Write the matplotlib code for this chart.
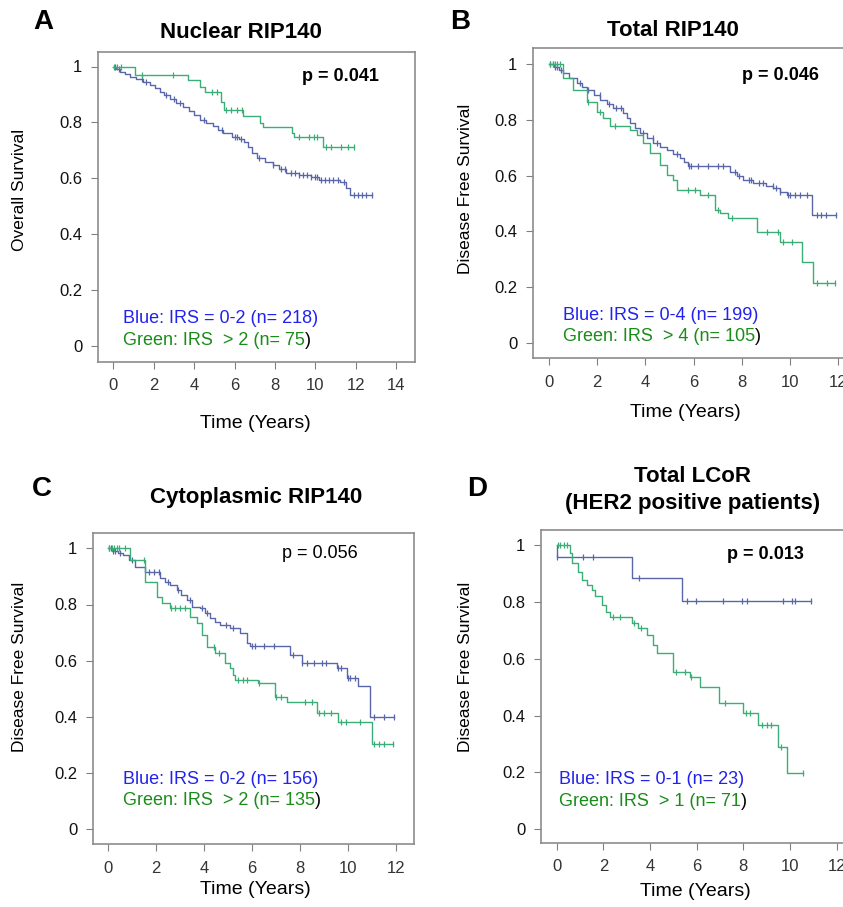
import numpy as np
import matplotlib
matplotlib.use("Agg")
import matplotlib.pyplot as plt
from matplotlib import font_manager

# ---- data (time in years, survival fraction) ----
# A: Nuclear RIP140, overall survival
a_blue_t = [0.15, 0.35, 0.6, 0.85, 1.1, 1.45, 1.8, 2.05, 2.3, 2.5, 2.8, 3.1, 3.45, 3.75, 4.0, 4.3,
            4.6, 4.95, 5.2, 5.45, 5.9, 6.2, 6.45, 6.65, 6.85, 7.1, 7.5, 7.9, 8.2, 8.55, 9.2, 9.8,
            10.2, 11.2, 11.5, 11.7]
a_blue_s = [0.99, 0.981, 0.972, 0.963, 0.954, 0.944, 0.934, 0.922, 0.91, 0.898, 0.884, 0.870, 0.856,
            0.840, 0.825, 0.809, 0.798, 0.787, 0.774, 0.761, 0.749, 0.740, 0.731, 0.712, 0.692, 0.672,
            0.660, 0.648, 0.633, 0.618, 0.612, 0.603, 0.594, 0.588, 0.564, 0.540]
a_blue_c = [0.1, 0.3, 1.4, 1.6, 2.6, 3.0, 3.3, 4.5, 5.4, 6.0, 6.1, 6.3, 7.2, 7.9, 8.3, 8.5, 8.8, 9.0,
            9.2, 9.4, 9.6, 9.8, 10.0, 10.1, 10.3, 10.5, 10.7, 10.9, 11.1, 11.4, 11.9, 12.1, 12.3,
            12.5, 12.8]
a_green_t = [1.07, 3.71, 4.29, 4.54, 5.33, 5.5, 6.44, 7.26, 7.43, 8.83, 8.95, 10.37]
a_green_s = [0.970, 0.952, 0.928, 0.910, 0.874, 0.844, 0.823, 0.799, 0.782, 0.763, 0.747, 0.713]
a_green_c = [0.05, 0.2, 0.4, 1.4, 2.97, 4.9, 5.15, 5.6, 5.85, 6.1, 6.35, 9.2, 9.7, 9.95, 10.1,
             10.55, 10.8, 11.25, 11.6, 11.92]

# B: Total RIP140, disease free survival
b_blue_t = [0.2, 0.4, 0.6, 0.85, 1.15, 1.35, 1.56, 1.85, 2.12, 2.4, 2.67, 3.08, 3.25, 3.36, 3.55,
            3.78, 4.05, 4.33, 4.6, 4.88, 5.15, 5.44, 5.6, 5.78, 7.51, 7.8, 8.06, 8.48, 9.0, 9.31,
            9.6, 9.86, 10.9]
b_blue_s = [0.99, 0.98, 0.967, 0.952, 0.931, 0.918, 0.907, 0.889, 0.871, 0.856, 0.842, 0.824, 0.806,
            0.788, 0.770, 0.752, 0.734, 0.716, 0.704, 0.692, 0.677, 0.662, 0.648, 0.635, 0.614,
            0.599, 0.584, 0.572, 0.563, 0.554, 0.542, 0.530, 0.459]
b_blue_c = [0.05, 0.15, 0.25, 0.35, 0.5, 1.3, 1.6, 2.1, 2.5, 2.8, 3.0, 3.9, 4.3, 4.5, 5.3, 5.8, 5.9,
            6.2, 6.6, 7.0, 7.2, 7.7, 7.9, 8.3, 8.4, 8.7, 8.9, 9.3, 9.4, 9.6, 9.9, 10.0, 10.2,
            10.4, 10.7, 11.1, 11.3, 11.5, 11.9]
b_green_t = [0.59, 1.01, 1.56, 1.98, 2.25, 2.53, 3.36, 3.64, 3.91, 4.19, 4.61, 4.88, 5.16, 5.30,
             6.27, 6.89, 7.10, 7.44, 8.62, 9.59, 10.49, 10.97]
b_green_s = [0.949, 0.907, 0.865, 0.829, 0.806, 0.778, 0.764, 0.746, 0.716, 0.680, 0.638, 0.602,
             0.584, 0.548, 0.530, 0.476, 0.464, 0.449, 0.399, 0.363, 0.291, 0.213]
b_green_c = [0.05, 0.15, 0.25, 0.35, 0.45, 1.63, 2.12, 2.74, 5.78, 6.05, 6.6, 7.02, 7.6, 9.03,
             9.52, 9.72, 10.07, 11.1, 11.52, 11.87]

# C: Cytoplasmic RIP140, disease free survival
c_blue_t = [0.15, 0.4, 0.63, 0.85, 1.11, 1.53, 2.16, 2.35, 2.57, 2.85, 3.05, 3.27, 3.48, 3.83, 4.05,
            4.24, 4.45, 4.66, 5.08, 5.49, 5.77, 5.91, 7.58, 8.07, 9.53, 9.95, 10.43, 10.92]
c_blue_s = [0.99, 0.983, 0.976, 0.96, 0.935, 0.917, 0.893, 0.881, 0.869, 0.852, 0.834, 0.816, 0.792,
            0.786, 0.768, 0.751, 0.739, 0.727, 0.715, 0.697, 0.662, 0.652, 0.620, 0.591, 0.573,
            0.537, 0.51, 0.401]
c_blue_c = [0.05, 0.1, 0.2, 0.3, 0.5, 1.0, 1.7, 1.9, 2.1, 2.5, 2.9, 3.4, 3.9, 4.1, 4.9, 5.2, 6.0, 6.1,
            6.5, 6.9, 7.7, 8.1, 8.3, 8.6, 8.9, 9.1, 9.6, 9.7, 10.0, 10.1, 10.3, 11.1, 11.5, 11.9]
c_green_t = [0.9, 1.53, 2.02, 2.23, 2.57, 3.41, 3.69, 3.9, 4.1, 4.45, 4.87, 5.08, 5.22, 5.29, 6.26,
             6.95, 7.44, 8.69, 9.6, 10.99]
c_green_s = [0.958, 0.881, 0.828, 0.804, 0.786, 0.757, 0.733, 0.691, 0.650, 0.626, 0.591, 0.573,
             0.55, 0.531, 0.519, 0.472, 0.454, 0.413, 0.383, 0.304]
c_green_c = [0.05, 0.15, 0.25, 0.35, 0.45, 0.7, 1.5, 2.6, 2.8, 3.0, 3.2, 4.4, 4.6, 5.4, 5.6, 5.8, 6.3,
             7.0, 7.2, 8.2, 8.5, 8.8, 9.0, 9.3, 9.7, 9.9, 10.5, 11.1, 11.3, 11.5, 11.89]

# D: Total LCoR (HER2 positive), disease free survival
d_blue_t = [0.0, 3.21, 5.39]
d_blue_s = [0.957, 0.883, 0.803]
d_blue_c = [0.0, 1.12, 1.55, 3.54, 5.57, 5.99, 7.14, 7.93, 8.14, 9.71, 10.07, 10.21, 10.89]
d_green_t = [0.57, 0.64, 0.93, 1.07, 1.29, 1.5, 1.64, 1.93, 2.11, 2.28, 3.21, 3.5, 3.86, 4.14, 4.29,
             5.0, 5.71, 6.14, 6.96, 8.0, 8.64, 9.5, 9.86]
d_green_s = [0.971, 0.936, 0.906, 0.877, 0.859, 0.842, 0.821, 0.789, 0.765, 0.748, 0.725, 0.707,
             0.683, 0.648, 0.619, 0.554, 0.537, 0.502, 0.443, 0.408, 0.367, 0.291, 0.197]
d_green_c = [0.05, 0.15, 0.3, 0.45, 2.4, 2.7, 3.3, 3.6, 5.1, 5.5, 5.75, 7.2, 8.1, 8.3, 8.8, 9.0,
             9.2, 9.6, 10.57]

titles = ["Nuclear RIP140", "Total RIP140", "Cytoplasmic RIP140", "Total LCoR\n(HER2 positive patients)"]
letters = ["A", "B", "C", "D"]
ylabels = ["Overall Survival", "Disease Free Survival", "Disease Free Survival", "Disease Free Survival"]
pvals = ["p = 0.041", "p = 0.046", "p = 0.056", "p = 0.013"]
p_bold = [True, True, False, True]
blue_labels = ["Blue: IRS = 0-2 (n= 218)", "Blue: IRS = 0-4 (n= 199)",
               "Blue: IRS = 0-2 (n= 156)", "Blue: IRS = 0-1 (n= 23)"]
green_labels = ["Green: IRS  > 2 (n= 75", "Green: IRS  > 4 (n= 105",
                "Green: IRS  > 2 (n= 135", "Green: IRS  > 1 (n= 71"]

W, H = 843, 907
LINE_BLUE = "#5a66aa"
LINE_GREEN = "#3aae76"
TXT_BLUE = "#2222ee"
TXT_GREEN = "#1a8c1a"


def has_font(name):
    try:
        font_manager.findfont(name, fallback_to_default=False)
        return True
    except ValueError:
        return False


if has_font("Liberation Sans Narrow"):
    head_font, head_size = "Liberation Sans Narrow", 18.5
else:
    head_font, head_size = "Liberation Sans", 16
plt.rcParams["font.family"] = ["Liberation Sans", "DejaVu Sans"]

fig = plt.figure(figsize=(W / 100, H / 100), dpi=100)


def fx(x):
    return x / W


def fy(y):
    return 1 - y / H


def km(ax, times, surv, cens, color):
    end = max(max(cens), times[-1])
    t = np.r_[0, times, end]
    s = np.r_[1, surv, surv[-1]]
    ax.step(t, s, where="post", color=color, lw=1.0)
    idx = np.searchsorted(times, cens, side="right")
    ax.plot(cens, np.r_[1, surv][idx], ls="none", marker="|", ms=5, mew=0.9, color=color)


# pixel layout: box (left, top, right, bottom), x origin px, px/year, y0 px, px/unit
panels = [
    dict(box=(97.7, 52, 415, 361.7), x0=113.3, kx=20.2, y0=346, ky=279.5, xmax=14,
         curves=[(a_blue_t, a_blue_s, a_blue_c), (a_green_t, a_green_s, a_green_c)],
         p=(9.33, 0.963), leg=(0.5, 0.099, 0.021),
         letter=(43, 22), title=(241, 32), ylab=(20, 190), xlab=(255, 423)),
    dict(box=(532.7, 48.3, 855, 358.3), x0=549, kx=24.1, y0=342.7, ky=278.5, xmax=12,
         curves=[(b_blue_t, b_blue_s, b_blue_c), (b_green_t, b_green_s, b_green_c)],
         p=(8.0, 0.961), leg=(0.57, 0.099, 0.024),
         letter=(460, 22), title=(673, 30), ylab=(465, 189), xlab=(685, 412)),
    dict(box=(92.7, 532.7, 414, 844), x0=108.3, kx=23.97, y0=829.3, ky=281, xmax=12,
         curves=[(c_blue_t, c_blue_s, c_blue_c), (c_green_t, c_green_s, c_green_c)],
         p=(7.23, 0.98), leg=(0.63, 0.178, 0.102),
         letter=(42, 489), title=(256, 497), ylab=(20, 667), xlab=(255, 890)),
    dict(box=(540.7, 530, 855, 842.7), x0=556.7, kx=23.33, y0=829.3, ky=284.3, xmax=12,
         curves=[(d_blue_t, d_blue_s, d_blue_c), (d_green_t, d_green_s, d_green_c)],
         p=(7.29, 0.968), leg=(0.11, 0.176, 0.097),
         letter=(477, 489), title=(693, 490), ylab=(465, 667), xlab=(695, 892)),
]

for i, P in enumerate(panels):
    l, t, r, b = P["box"]
    ax = fig.add_axes([fx(l), fy(b), (r - l) / W, (b - t) / H])
    ax.set_xlim((l - P["x0"]) / P["kx"], (r - P["x0"]) / P["kx"])
    ax.set_ylim((P["y0"] - b) / P["ky"], (P["y0"] - t) / P["ky"])

    for (tt, ss, cc), col in zip(P["curves"], [LINE_BLUE, LINE_GREEN]):
        km(ax, tt, ss, cc, col)

    for sp in ax.spines.values():
        sp.set_color("#8c8c8c")
        sp.set_linewidth(1.2)
    ax.set_xticks(np.arange(0, P["xmax"] + 1, 2))
    ax.set_yticks([0, 0.2, 0.4, 0.6, 0.8, 1.0])
    ax.set_yticklabels(["0", "0.2", "0.4", "0.6", "0.8", "1"])
    ax.tick_params(axis="both", direction="out", length=5, width=0.8, color="#808080")
    ax.tick_params(axis="y", labelsize=12, pad=6, labelcolor="#111111")
    ax.tick_params(axis="x", labelsize=12, pad=7, labelcolor="#333333")

    ax.text(P["p"][0], P["p"][1], pvals[i], fontsize=13,
            fontweight="bold" if p_bold[i] else "normal", ha="left", va="center", color="black")
    lx, by, gy = P["leg"]
    ax.text(lx, by, blue_labels[i], fontsize=13, color=TXT_BLUE, ha="left", va="center")
    g = ax.text(lx, gy, green_labels[i], fontsize=13, color=TXT_GREEN, ha="left", va="center")
    ax.annotate(")", xy=(1, 0.5), xycoords=g, fontsize=13, color="black", ha="left", va="center")

    fig.text(fx(P["letter"][0]), fy(P["letter"][1]), letters[i], fontsize=20, fontweight="bold",
             family=[head_font, "DejaVu Sans"], ha="center", va="center")
    fig.text(fx(P["title"][0]), fy(P["title"][1]), titles[i], fontsize=head_size, fontweight="bold",
             family=[head_font, "DejaVu Sans"], ha="center", va="center", linespacing=1.35)
    fig.text(fx(P["ylab"][0]), fy(P["ylab"][1]), ylabels[i], fontsize=12.5, rotation=90,
             ha="center", va="center")
    fig.text(fx(P["xlab"][0]), fy(P["xlab"][1]), "Time (Years)", fontsize=14,
             ha="center", va="center")

fig.savefig("out.png", dpi=100)
